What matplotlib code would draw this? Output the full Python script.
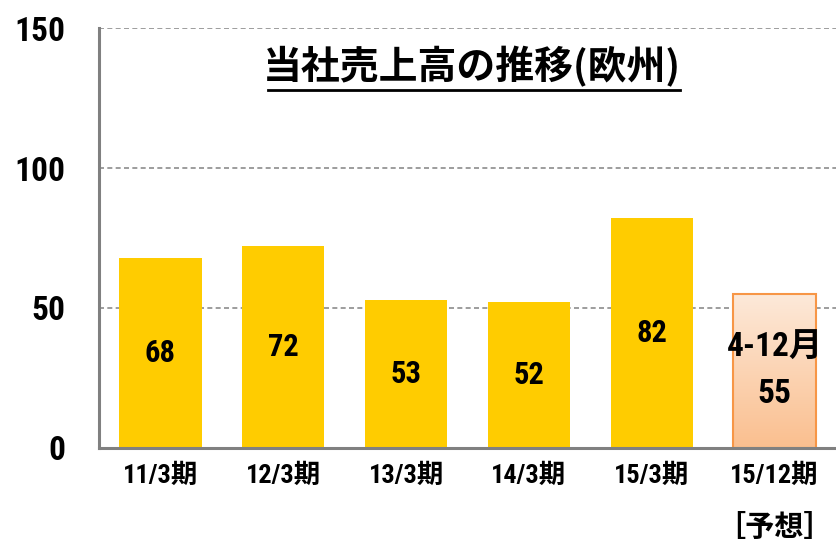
import numpy as np
import matplotlib.pyplot as plt
from matplotlib.lines import Line2D
from matplotlib.colors import LinearSegmentedColormap

plt.rcParams['font.family'] = ['Roboto Condensed', 'Noto Sans CJK JP', 'DejaVu Sans']

categories = ['11/3期', '12/3期', '13/3期', '14/3期', '15/3期', '15/12期']
sales = [68, 72, 53, 52, 82, 55]
value_labels = ['68', '72', '53', '52', '82', '4-12月\n55']
forecast_note = '［予想］'
title = '当社売上高の推移(欧州)'

fig = plt.figure(figsize=(8.36, 5.44), dpi=100)
ax = fig.add_axes([0.1184, 0.1765, 0.8816, 0.7720])

x = np.arange(len(categories))
ax.bar(x[:-1], sales[:-1], width=0.67, color='#ffcc00', zorder=2)
last = ax.bar(x[-1:], sales[-1:], width=0.67, color='none', edgecolor='#f79646', linewidth=1.5, zorder=3)

# gradient fill for the forecast bar
patch = last[0]
grad = np.linspace(0, 1, 256).reshape(-1, 1)
cmap = LinearSegmentedColormap.from_list('peach', ['#fde9d9', '#fabf8f'])
bx, bw = patch.get_x(), patch.get_width()
im = ax.imshow(grad, cmap=cmap, aspect='auto', extent=[bx, bx + bw, 0, sales[-1]], origin='upper', zorder=2)
im.set_clip_path(patch)

for i, (v, lab) in enumerate(zip(sales, value_labels)):
    fs = 24 if '\n' in lab else 22
    ax.text(x[i], v / 2, lab, ha='center', va='center', fontsize=fs, fontweight='bold', linespacing=1.6, zorder=4)

ax.set_xlim(-0.5, 5.5)
ax.set_ylim(0, 150)
ax.set_yticks([0, 50, 100, 150])
ax.set_xticks(x)
ax.set_xticklabels(categories)
ax.tick_params(axis='y', length=0, pad=24, labelsize=24)
ax.tick_params(axis='x', length=0, pad=11, labelsize=19)
for t in ax.get_xticklabels() + ax.get_yticklabels():
    t.set_fontweight('bold')

for yv in [50, 100, 150]:
    ax.axhline(yv, color='#8c8c8c', linestyle=(0, (3, 2)), linewidth=1.2, zorder=1)

for s in ['top', 'right']:
    ax.spines[s].set_visible(False)
for s in ['left', 'bottom']:
    ax.spines[s].set_color('#808080')
    ax.spines[s].set_linewidth(2.2)
    ax.spines[s].set_zorder(5)

ax.text(x[-1], -0.187, forecast_note, transform=ax.get_xaxis_transform(), ha='center', va='center',
        fontsize=21, fontweight='bold', family=['Noto Sans CJK JP'])

# title with underline
ax.text(0.506, 0.908, title, transform=ax.transAxes, ha='center', va='center', fontsize=28,
        fontweight='bold', family=['Noto Sans CJK JP'])
fig.add_artist(Line2D([268 / 836, 680 / 836], [1 - 90 / 544, 1 - 90 / 544], color='black', linewidth=2))

plt.savefig('out.png', dpi=100)
